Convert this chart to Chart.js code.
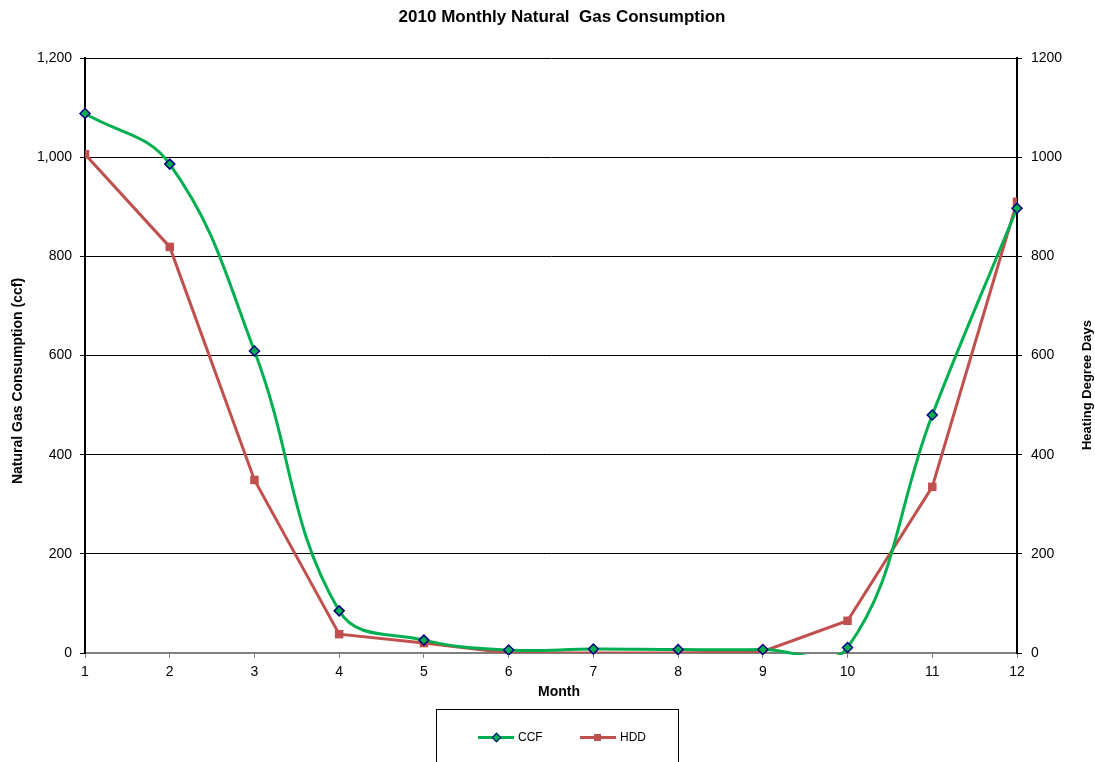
<!DOCTYPE html>
<html>
<head>
<meta charset="utf-8">
<script src="https://cdn.jsdelivr.net/npm/chart.js@4"></script>
<style>
  body { margin: 0; background: #fff; font-family: "Liberation Sans", Arial, sans-serif; }
  #wrap { position: relative; width: 1095px; height: 762px; overflow: hidden; }
  #legend {
    position: absolute; left: 436px; top: 709px; width: 243px; height: 70px;
    border: 1px solid #000; box-sizing: border-box;
  }
  .item { position: absolute; top: 20px; font-size: 12px; line-height: 14px; color: #000; }
  .swatch { position: absolute; top: 6px; width: 36px; height: 3px; }
  .mark { position: absolute; }
</style>
</head>
<body>
<div id="wrap">
  <canvas id="gasChart" width="1095" height="762"></canvas>
  <div id="legend">
    <div class="item" style="left:41px; width:70px;">
      <div class="swatch" style="left:0; background:#00b050;"></div>
      <div class="mark" style="left:15px; top:4px; width:5px; height:5px; background:#00b050; border:1px solid #000080; transform:rotate(45deg);"></div>
      <span style="position:absolute; left:40px;">CCF</span>
    </div>
    <div class="item" style="left:143px; width:80px;">
      <div class="swatch" style="left:0; background:#c0504d;"></div>
      <div class="mark" style="left:14px; top:4px; width:7px; height:7px; background:#c0504d;"></div>
      <span style="position:absolute; left:40px;">HDD</span>
    </div>
  </div>
</div>
<script>
const months = [1, 2, 3, 4, 5, 6, 7, 8, 9, 10, 11, 12];
const ccfValues = [1088, 986, 609, 85, 26, 6, 8, 7, 7, 11, 480, 897];
const hddValues = [1006, 819, 349, 38, 20, 0, 0, 0, 3, 65, 335, 910];

const chartTitle = "2010 Monthly Natural  Gas Consumption";
const leftTitle = "Natural Gas Consumption (ccf)";
const rightTitle = "Heating Degree Days";
const xTitle = "Month";

const FONT = "'Liberation Sans', Arial, sans-serif";

// titles drawn by hand so they sit where Excel put them
const titlesPlugin = {
  id: "titles",
  afterDraw(chart) {
    const c = chart.ctx;
    c.save();
    c.fillStyle = "#000";
    c.textAlign = "center";
    c.textBaseline = "middle";

    c.font = "bold 17px " + FONT;
    c.fillText(chartTitle, 562, 17);

    c.font = "bold 14px " + FONT;
    c.fillText(xTitle, 559, 692);

    c.save();
    c.translate(18, 381);
    c.rotate(-Math.PI / 2);
    c.font = "bold 14px " + FONT;
    c.fillText(leftTitle, 0, 0);
    c.restore();

    c.save();
    c.translate(1087, 385);
    c.rotate(-Math.PI / 2);
    c.font = "bold 13px " + FONT;
    c.fillText(rightTitle, 0, 0);
    c.restore();

    c.restore();
  }
};

const ctx = document.getElementById("gasChart").getContext("2d");

new Chart(ctx, {
  type: "line",
  data: {
    datasets: [
      {
        label: "CCF",
        data: months.map((m, i) => ({ x: m, y: ccfValues[i] })),
        borderColor: "#00b050",
        borderWidth: 3,
        tension: 0.4,
        capBezierPoints: false,
        clip: { left: 10, right: 10, top: 10, bottom: 2 },
        pointStyle: "rectRot",
        pointRadius: 5,
        pointBackgroundColor: "#00b050",
        pointBorderColor: "#000080",
        pointBorderWidth: 1.5,
        yAxisID: "y"
      },
      {
        label: "HDD",
        data: months.map((m, i) => ({ x: m, y: hddValues[i] })),
        borderColor: "#c0504d",
        borderWidth: 3,
        tension: 0,
        pointStyle: "rect",
        pointRadius: 6,
        pointBackgroundColor: "#c0504d",
        pointBorderColor: "#c0504d",
        pointBorderWidth: 0,
        yAxisID: "y2"
      }
    ]
  },
  options: {
    responsive: false,
    animation: false,
    layout: { padding: { left: 0, right: 0, top: 58, bottom: 61 } },
    plugins: {
      legend: { display: false },
      tooltip: { enabled: false },
      title: { display: false }
    },
    scales: {
      x: {
        type: "linear",
        min: 1,
        max: 12,
        ticks: { stepSize: 1, color: "#000", font: { family: FONT, size: 14 }, padding: 6 },
        grid: { drawOnChartArea: false, drawTicks: true, tickLength: 5, color: "#808080" },
        border: { color: "#808080", width: 2 },
        afterFit(scale) { scale.height = 48; }
      },
      y: {
        position: "left",
        min: 0,
        max: 1200,
        ticks: {
          stepSize: 200, color: "#000", font: { family: FONT, size: 14 }, padding: 8,
          callback: v => v.toLocaleString("en-US")
        },
        grid: { color: "#000", lineWidth: 1, tickLength: 5 },
        border: { color: "#000", width: 2 },
        afterFit(scale) { scale.width = 85; }
      },
      y2: {
        position: "right",
        min: 0,
        max: 1200,
        ticks: {
          stepSize: 200, color: "#000", font: { family: FONT, size: 14 }, padding: 9,
          callback: v => String(v)
        },
        grid: { drawOnChartArea: false, tickLength: 5, color: "#000" },
        border: { color: "#000", width: 2 },
        afterFit(scale) { scale.width = 78; }
      }
    }
  },
  plugins: [titlesPlugin]
});
</script>
</body>
</html>
